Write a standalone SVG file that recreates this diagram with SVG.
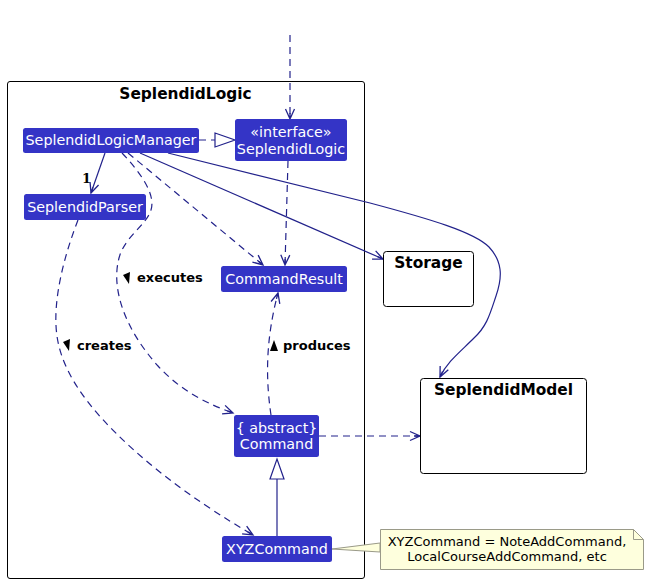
<svg xmlns="http://www.w3.org/2000/svg" width="649" height="583" viewBox="0 0 649 583">
<style>
  text { font-family: "DejaVu Sans", "Noto Sans", sans-serif; }
  .cls { fill: #3434C6; stroke: none; }
  .ctext { fill: #FFFFFF; font-size: 14.3px; text-anchor: middle; }
  .pkg { fill: #FFFFFF; stroke: #000000; stroke-width: 1; }
  .ptitle { fill: #000000; font-size: 15.4px; font-weight: bold; text-anchor: middle; }
  .lbl { fill: #000000; font-size: 13px; font-weight: bold; }
  .mult { fill: #000000; font-size: 13px; font-weight: bold; font-family: "DejaVu Serif", "Liberation Serif", serif; }
  .edge { fill: none; stroke: #22228B; stroke-width: 1.2; }
  .dash { stroke-dasharray: 7,5; }
  .note { fill: #FEFFDD; stroke: #9A9A88; stroke-width: 1; }
  .ntext { fill: #000000; font-size: 13px; text-anchor: middle; }
</style>
<defs>
  <marker id="arr" markerWidth="14" markerHeight="12" refX="12" refY="6" orient="auto" markerUnits="userSpaceOnUse">
    <path d="M2,1.5 L12,6 L2,10.5 M6,6 L12,6" fill="none" stroke="#22228B" stroke-width="1.3"/>
  </marker>
</defs>

<g id="SeplendidLogic_pkg">
  <rect class="pkg" x="7.5" y="81.5" width="357" height="497" rx="2.5"/>
  <text class="ptitle" x="185.5" y="99">SeplendidLogic</text>
</g>

<g id="connectors">
  <line class="edge dash" x1="290" y1="35" x2="290" y2="119" marker-end="url(#arr)"/>
  <line class="edge dash" x1="199" y1="140" x2="215" y2="140"/>
  <polygon points="215,133 235,140 215,147" fill="#FFFFFF" stroke="#22228B" stroke-width="1.2"/>
  <line class="edge" x1="105" y1="153" x2="91" y2="193" marker-end="url(#arr)"/>
  <text class="mult" x="82" y="183">1</text>
  <line class="edge dash" x1="128" y1="153" x2="263" y2="265" marker-end="url(#arr)"/>
  <line class="edge dash" x1="288" y1="161" x2="285" y2="265" marker-end="url(#arr)"/>
  <line class="edge" x1="140" y1="153" x2="383" y2="259" marker-end="url(#arr)"/>
  <path class="edge" d="M168,153 L370,203 C430,219 474,232 489,247 C502,261 503,276 496,296 C490,314 487,326 474,338 C460,352 447,362 440,377" marker-end="url(#arr)"/>
  <path class="edge dash" d="M122,153 C140,172 156,194 151,210 C146,226 125,236 119,258 C111,288 124,328 158,366 C182,392 208,404 233,413" marker-end="url(#arr)"/>
  <polygon points="123,275 130,272 129,284" fill="#000000"/>
  <text class="lbl" x="137" y="282">executes</text>
  <path class="edge dash" d="M78,220 C64,256 52,302 57,336 C63,380 100,422 150,464 C186,494 224,518 253,535" marker-end="url(#arr)"/>
  <polygon points="63,342 70,339 69,351" fill="#000000"/>
  <text class="lbl" x="77" y="350">creates</text>
  <path class="edge dash" d="M271,415 C266,381 265,342 278,293" marker-end="url(#arr)"/>
  <polygon points="270,351 274,340 278,351" fill="#000000"/>
  <text class="lbl" x="283" y="350">produces</text>
  <line class="edge dash" x1="319" y1="436" x2="420" y2="436" marker-end="url(#arr)"/>
  <line class="edge" x1="277" y1="536" x2="277" y2="479"/>
  <polygon points="270,479 277,459 284,479" fill="#FFFFFF" stroke="#22228B" stroke-width="1.2"/>
  <polygon points="332,549 380,543 380,552" fill="#FEFFDD" stroke="#9A9A88" stroke-width="1"/>
</g>

<g id="SeplendidLogicManager">
  <rect class="cls" x="23" y="128" width="176" height="25" rx="2.5"/>
  <text class="ctext" x="111" y="145">SeplendidLogicManager</text>
</g>

<g id="SeplendidLogicInterface">
  <rect class="cls" x="235" y="119" width="112" height="42" rx="2.5"/>
  <text class="ctext" x="291" y="137">«interface»</text>
  <text class="ctext" x="291" y="154">SeplendidLogic</text>
</g>

<g id="SeplendidParser">
  <rect class="cls" x="24" y="194" width="122" height="26" rx="2.5"/>
  <text class="ctext" x="85" y="212">SeplendidParser</text>
</g>

<g id="CommandResult">
  <rect class="cls" x="221" y="266" width="126" height="26" rx="2.5"/>
  <text class="ctext" x="284" y="284">CommandResult</text>
</g>

<g id="Command">
  <rect class="cls" x="234" y="415" width="85" height="42" rx="2.5"/>
  <text class="ctext" x="276.5" y="433">{ abstract}</text>
  <text class="ctext" x="276.5" y="449">Command</text>
</g>

<g id="XYZCommand">
  <rect class="cls" x="222" y="536" width="110" height="26" rx="2.5"/>
  <text class="ctext" x="277" y="554">XYZCommand</text>
</g>

<g id="Storage">
  <rect class="pkg" x="383.5" y="251.5" width="90" height="55" rx="3"/>
  <text class="ptitle" x="428.5" y="268">Storage</text>
</g>

<g id="SeplendidModel">
  <rect class="pkg" x="420.5" y="378.5" width="166" height="95" rx="3"/>
  <text class="ptitle" x="503.5" y="395">SeplendidModel</text>
</g>

<g id="note">
  <path class="note" d="M380.5,529.5 L633.5,529.5 L643.5,539.5 L643.5,569.5 L380.5,569.5 Z"/>
  <path d="M633.5,529.5 L633.5,539.5 L643.5,539.5" fill="none" stroke="#9A9A88" stroke-width="1"/>
  <text class="ntext" x="507" y="546">XYZCommand = NoteAddCommand,</text>
  <text class="ntext" x="507" y="561">LocalCourseAddCommand, etc</text>
</g>
</svg>
